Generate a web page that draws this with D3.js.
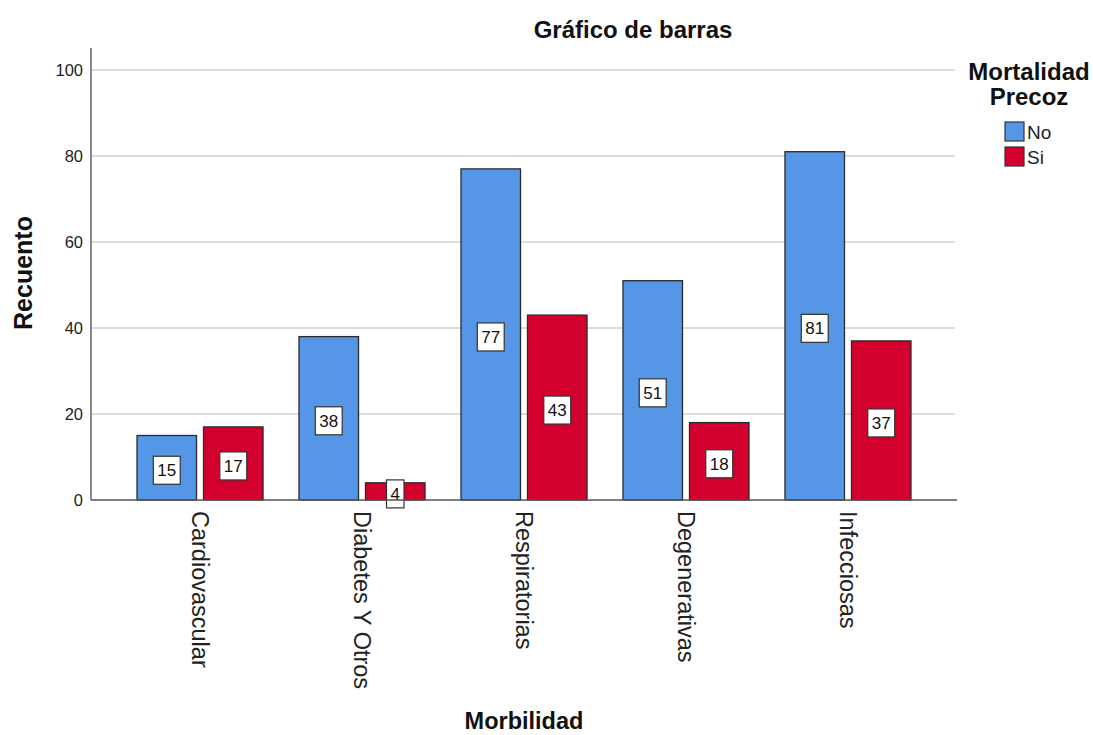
<!DOCTYPE html>
<html>
<head>
<meta charset="utf-8">
<script src="https://cdn.jsdelivr.net/npm/d3@7"></script>
<style>
  body { margin: 0; background: #fff; }
  svg { display: block; font-family: "Liberation Sans", Arial, sans-serif; }
</style>
</head>
<body>
<svg id="chart" width="1093" height="735"></svg>
<script>
// Morbilidad categories and counts by Mortalidad Precoz
const categories = ["Cardiovascular", "Diabetes Y Otros", "Respiratorias", "Degenerativas", "Infecciosas"];
const seriesNames = ["No", "Si"];
const valuesNo = [15, 38, 77, 51, 81];
const valuesSi = [17, 4, 43, 18, 37];
const yTicks = [0, 20, 40, 60, 80, 100];
const colors = ["#5596e6", "#d3002d"];

const svg = d3.select("#chart");
const plot = { left: 91, right: 957, top: 48, bottom: 500 };

const y = d3.scaleLinear().domain([0, 100]).range([plot.bottom, 70]);
const x0 = d3.scaleBand().domain(categories)
  .range([plot.left, plot.right]).paddingInner(0.222).paddingOuter(0.284);
const x1 = d3.scaleBand().domain(seriesNames)
  .range([0, x0.bandwidth()]).paddingInner(0.105);
const color = d3.scaleOrdinal().domain(seriesNames).range(colors);

const rows = categories.map((c, i) => ({
  cat: c,
  vals: [{ s: "No", v: valuesNo[i] }, { s: "Si", v: valuesSi[i] }]
}));

// grid lines
svg.append("g").selectAll("line").data(yTicks.filter(t => t > 0)).join("line")
  .attr("x1", plot.left).attr("x2", 955)
  .attr("y1", d => y(d)).attr("y2", d => y(d))
  .attr("stroke", "#d2d2d2").attr("stroke-width", 1.6);

// y tick labels
svg.append("g").selectAll("text").data(yTicks).join("text")
  .attr("x", 83).attr("y", d => y(d)).attr("dy", "0.36em")
  .attr("text-anchor", "end").attr("font-size", 16.5).attr("fill", "#222")
  .text(d => d);

// bars
const groups = svg.append("g").selectAll("g").data(rows).join("g")
  .attr("transform", d => `translate(${x0(d.cat)},0)`);

groups.selectAll("rect").data(d => d.vals).join("rect")
  .attr("x", d => x1(d.s)).attr("width", x1.bandwidth())
  .attr("y", d => y(d.v)).attr("height", d => y(0) - y(d.v))
  .attr("fill", d => color(d.s))
  .attr("stroke", "#2b2b2b").attr("stroke-width", 1.3);

// value labels in boxes
const lab = groups.selectAll("g.lab").data(d => d.vals).join("g")
  .attr("class", "lab")
  .attr("transform", d => `translate(${x1(d.s) + x1.bandwidth() / 2},${(y(d.v) + y(0)) / 2 + 2.5})`);
lab.append("text")
  .attr("text-anchor", "middle").attr("dy", "0.36em")
  .attr("font-size", 17).attr("fill", "#111")
  .text(d => d.v);
lab.each(function () {
  const g = d3.select(this);
  const bb = g.select("text").node().getBBox();
  g.insert("rect", "text")
    .attr("x", bb.x - 4).attr("y", -14)
    .attr("width", bb.width + 8).attr("height", 28)
    .attr("fill", "#fff").attr("stroke", "#333").attr("stroke-width", 1.2);
});

// axes lines
svg.append("line")
  .attr("x1", plot.left).attr("x2", plot.left)
  .attr("y1", plot.top).attr("y2", plot.bottom)
  .attr("stroke", "#8a8a8a").attr("stroke-width", 2);
svg.append("line")
  .attr("x1", plot.left).attr("x2", plot.right)
  .attr("y1", plot.bottom).attr("y2", plot.bottom)
  .attr("stroke", "#555").attr("stroke-width", 1.6);

// category labels, rotated
svg.append("g").selectAll("text").data(categories).join("text")
  .attr("transform", d => `translate(${x0(d) + x0.bandwidth() / 2},511) rotate(90)`)
  .attr("dy", "0.35em").attr("text-anchor", "start")
  .attr("font-size", 23.5).attr("fill", "#222")
  .text(d => d);

// titles
svg.append("text").attr("x", 633).attr("y", 38)
  .attr("text-anchor", "middle").attr("font-size", 24).attr("font-weight", "bold")
  .attr("fill", "#111").text("Gráfico de barras");
svg.append("text").attr("transform", "translate(32,273) rotate(-90)")
  .attr("text-anchor", "middle").attr("font-size", 25).attr("font-weight", "bold")
  .attr("fill", "#111").text("Recuento");
svg.append("text").attr("x", 524).attr("y", 729)
  .attr("text-anchor", "middle").attr("font-size", 23.5).attr("font-weight", "bold")
  .attr("fill", "#111").text("Morbilidad");

// legend
const legend = svg.append("g");
legend.append("text").attr("x", 1029).attr("y", 80)
  .attr("text-anchor", "middle").attr("font-size", 24).attr("font-weight", "bold")
  .attr("fill", "#111").text("Mortalidad");
legend.append("text").attr("x", 1029).attr("y", 105)
  .attr("text-anchor", "middle").attr("font-size", 24).attr("font-weight", "bold")
  .attr("fill", "#111").text("Precoz");
const items = legend.selectAll("g.item").data(seriesNames).join("g")
  .attr("class", "item")
  .attr("transform", (d, i) => `translate(1005,${122 + i * 25})`);
items.append("rect").attr("width", 19).attr("height", 19)
  .attr("fill", d => color(d)).attr("stroke", "#333").attr("stroke-width", 1.2);
items.append("text").attr("x", 22).attr("y", 10).attr("dy", "0.36em")
  .attr("font-size", 19).attr("fill", "#222").text(d => d);
</script>
</body>
</html>
